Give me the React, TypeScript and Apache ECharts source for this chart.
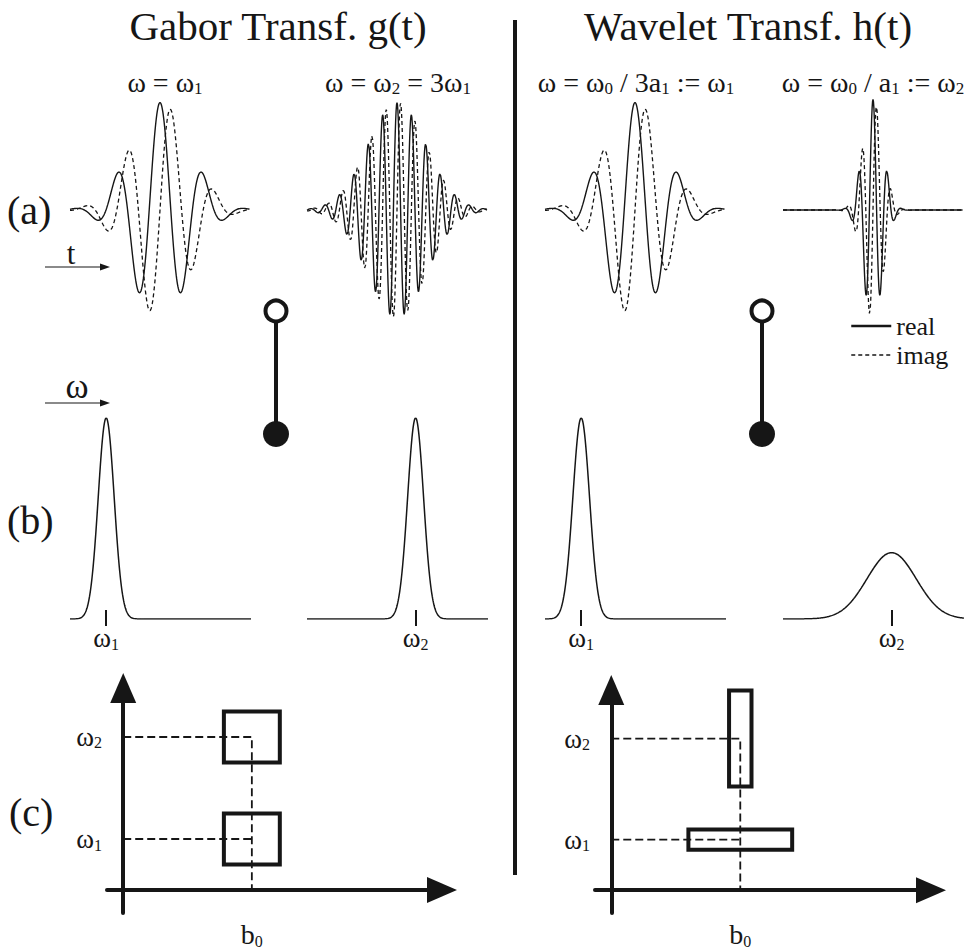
import { useEffect, useRef } from "react";
import * as echarts from "echarts";

const FONT = "'Liberation Serif', 'DejaVu Serif', serif";
const INK = "#161616";

// Row (a): time-domain atoms = Gaussian window x complex exponential
const atomCentres = [0, 0, 0, 0];
const atomPeriods = [0.48, 0.16, 0.48, 0.16];
const atomSigmas = [0.324, 0.324, 0.324, 0.108];
const atomAmplitudes = [1, 1, 1, 1.03];

// Row (b): magnitude spectra of the atoms (frequency axis in units of ω1)
const spectrumCentres = [1, 3, 1, 3];
const spectrumSigmas = [0.22, 0.22, 0.23, 0.68];
const spectrumHeights = [1, 1, 1, 0.33];
const spectrumTickSubs = ["1", "2", "1", "2"];

// Row (c): time-frequency tiles [b, ω, Δt, Δω]
const b0 = 2.3;
const omegaLevels = [1, 3];
const gaborTiles = [
  [2.3, 1, 1.0, 1.0],
  [2.3, 3, 1.0, 1.0],
];
const waveletTiles = [
  [2.3, 1, 1.85, 0.4],
  [2.3, 3, 0.4, 1.9],
];

// Column headings
const headings = ["Gabor Transf. g(t)", "Wavelet Transf. h(t)"];
const subHeadings = [
  "{m|ω = ω}{s|1}",
  "{m|ω = ω}{s|2}{m| = 3ω}{s|1}",
  "{m|ω = ω}{s|0}{m| / 3a}{s|1}{m| := ω}{s|1}",
  "{m|ω = ω}{s|0}{m| / a}{s|1}{m| := ω}{s|2}",
];

const colLeft = [70, 307, 545, 783];
const colCentre = [165, 398, 636, 873];
const colWidth = 181;

const rich = (main: number, sub: number) => ({
  m: { fontFamily: FONT, fontSize: main, lineHeight: main + 1, color: INK, verticalAlign: "middle" },
  s: { fontFamily: FONT, fontSize: sub, lineHeight: sub + 1, color: INK, verticalAlign: "bottom" },
});

function atomCurves(i: number) {
  const real: number[][] = [];
  const imag: number[][] = [];
  for (let k = 0; k <= 400; k++) {
    const t = -1 + k * 0.005;
    const d = t - atomCentres[i];
    const env = atomAmplitudes[i] * Math.exp(-(d * d) / (2 * atomSigmas[i] * atomSigmas[i]));
    const ph = (2 * Math.PI * d) / atomPeriods[i];
    real.push([t, env * Math.cos(ph)]);
    imag.push([t, env * Math.sin(ph)]);
  }
  return { real, imag };
}

function spectrumCurve(i: number) {
  const pts: number[][] = [];
  for (let k = 0; k <= 500; k++) {
    const w = k * 0.01;
    const d = w - spectrumCentres[i];
    pts.push([w, spectrumHeights[i] * Math.exp(-(d * d) / (2 * spectrumSigmas[i] * spectrumSigmas[i]))]);
  }
  return pts;
}

function tileRenderer(params: any, api: any) {
  const t = api.value(0);
  const w = api.value(1);
  const dt = api.value(2);
  const dw = api.value(3);
  const p0 = api.coord([t - dt / 2, w + dw / 2]);
  const p1 = api.coord([t + dt / 2, w - dw / 2]);
  return {
    type: "rect",
    shape: { x: p0[0], y: p0[1], width: p1[0] - p0[0], height: p1[1] - p0[1] },
    style: { fill: "none", stroke: INK, lineWidth: 4 },
  };
}

function buildOption() {
  const grid: any[] = [];
  const xAxis: any[] = [];
  const yAxis: any[] = [];
  const series: any[] = [];

  // (a) atoms
  for (let i = 0; i < 4; i++) {
    grid.push({ left: colLeft[i], top: 95, width: colWidth - 1, height: 230 });
    xAxis.push({ gridIndex: i, type: "value", min: -1, max: 1, show: false });
    yAxis.push({ gridIndex: i, type: "value", min: -1.07, max: 1.07, show: false });
    const { real, imag } = atomCurves(i);
    series.push({
      name: "real", type: "line", xAxisIndex: i, yAxisIndex: i, data: real,
      symbol: "none", silent: true, itemStyle: { color: INK }, lineStyle: { color: INK, width: 1.4 },
    });
    series.push({
      name: "imag", type: "line", xAxisIndex: i, yAxisIndex: i, data: imag,
      symbol: "none", silent: true, itemStyle: { color: INK }, lineStyle: { color: INK, width: 1.3, type: [4, 3] },
    });
  }

  // (b) spectra
  for (let i = 0; i < 4; i++) {
    const g = 4 + i;
    grid.push({ left: colLeft[i], top: 418, width: colWidth, height: 201 });
    xAxis.push({
      gridIndex: g, type: "value", min: 0, max: 5, offset: -9,
      axisLine: { show: false },
      splitLine: { show: false },
      axisTick: { show: true, customValues: [spectrumCentres[i]], length: 16, lineStyle: { color: INK, width: 2 } },
      axisLabel: {
        show: true, customValues: [spectrumCentres[i]], margin: 14,
        formatter: () => `{m|ω}{s|${spectrumTickSubs[i]}}`,
        rich: rich(27, 16),
      },
    });
    yAxis.push({ gridIndex: g, type: "value", min: 0, max: 1, show: false });
    series.push({
      name: "spectrum" + i, type: "line", xAxisIndex: g, yAxisIndex: g, data: spectrumCurve(i),
      symbol: "none", silent: true, lineStyle: { color: INK, width: 1.5 },
    });
  }

  // (c) time-frequency planes
  const planes = [
    { left: 107, top: 688, width: 335, height: 244, tiles: gaborTiles },
    { left: 595, top: 690, width: 336, height: 243, tiles: waveletTiles },
  ];
  planes.forEach((p, j) => {
    const g = 8 + j;
    grid.push({ left: p.left, top: p.top, width: p.width, height: p.height });
    xAxis.push({
      gridIndex: g, type: "value", min: -0.29, max: 5.7,
      axisLine: {
        show: true, onZero: true, symbol: ["none", "triangle"], symbolSize: [26, 30],
        lineStyle: { color: INK, width: 4 },
      },
      axisTick: { show: false },
      splitLine: { show: false },
      axisLabel: {
        show: true, customValues: [b0], margin: 7,
        formatter: () => "{m|b}{s|0}",
        rich: rich(28, 16),
      },
    });
    yAxis.push({
      gridIndex: g, type: "value", min: -0.45, max: 3.96,
      axisLine: {
        show: true, onZero: true, symbol: ["none", "triangle"], symbolSize: [26, 30],
        lineStyle: { color: INK, width: 4 },
      },
      axisTick: { show: false },
      splitLine: { show: false },
      axisLabel: {
        show: true, customValues: omegaLevels, margin: 5,
        formatter: (v: number) => (v === omegaLevels[0] ? "{m|ω}{s|1}" : "{m|ω}{s|2}"),
        rich: rich(27, 16),
      },
    });
    const dash = { color: INK, width: 1.8, type: [8, 4] };
    series.push({
      name: "guide-hi" + j, type: "line", xAxisIndex: g, yAxisIndex: g, symbol: "none", silent: true,
      data: [[0, omegaLevels[1]], [b0, omegaLevels[1]], [b0, 0]], lineStyle: dash,
    });
    series.push({
      name: "guide-lo" + j, type: "line", xAxisIndex: g, yAxisIndex: g, symbol: "none", silent: true,
      data: [[0, omegaLevels[0]], [b0, omegaLevels[0]]], lineStyle: dash,
    });
    series.push({
      name: "tiles" + j, type: "custom", xAxisIndex: g, yAxisIndex: g, data: p.tiles,
      renderItem: tileRenderer, clip: false, silent: true, encode: { x: 0, y: 1 },
    });
  });

  const txt = (text: string, x: number, y: number, size: number, align = "center") => ({
    type: "text",
    silent: true,
    style: {
      text, x, y, fill: INK, fontFamily: FONT, fontSize: size,
      align, verticalAlign: "middle", textAlign: align, textVerticalAlign: "middle",
    },
  });
  const richTxt = (text: string, x: number, y: number) => ({
    type: "text",
    silent: true,
    style: {
      text, x, y, fill: INK, fontFamily: FONT, fontSize: 28, rich: rich(28, 17),
      align: "center", verticalAlign: "middle", textAlign: "center", textVerticalAlign: "middle",
    },
  });
  const arrow = (x0: number, x1: number, y: number) => [
    { type: "line", silent: true, shape: { x1: x0, y1: y, x2: x1 - 6, y2: y }, style: { stroke: INK, lineWidth: 1.2 } },
    { type: "polygon", silent: true, shape: { points: [[x1, y], [x1 - 10, y - 3.5], [x1 - 10, y + 3.5]] }, style: { fill: INK } },
  ];
  const lollipop = (x: number) => [
    { type: "line", silent: true, shape: { x1: x, y1: 322, x2: x, y2: 424 }, style: { stroke: INK, lineWidth: 4 } },
    { type: "circle", silent: true, shape: { cx: x, cy: 311, r: 10.5 }, style: { fill: "#fff", stroke: INK, lineWidth: 4 } },
    { type: "circle", silent: true, shape: { cx: x, cy: 434, r: 13 }, style: { fill: INK } },
  ];

  const graphic: any[] = [
    txt(headings[0], 278, 26, 41),
    txt(headings[1], 748, 26, 41),
    ...subHeadings.map((s, i) => richTxt(s, colCentre[i], 82)),
    txt("(a)", 7, 210, 40, "left"),
    txt("(b)", 7, 520, 40, "left"),
    txt("(c)", 9, 812, 40, "left"),
    txt("t", 71, 253, 31),
    txt("ω", 77, 386, 35),
    ...arrow(45, 110, 267),
    ...arrow(45, 110, 403),
    { type: "line", silent: true, shape: { x1: 515, y1: 20, x2: 515, y2: 875 }, style: { stroke: INK, lineWidth: 4 } },
    ...lollipop(276),
    ...lollipop(762),
  ];

  return {
    animation: false,
    backgroundColor: "#ffffff",
    legend: {
      orient: "vertical", left: 850, top: 313, padding: 0, itemWidth: 40, itemHeight: 14, itemGap: 3,
      selectedMode: false,
      itemStyle: { opacity: 0 },
      textStyle: { fontFamily: FONT, fontSize: 26, color: INK },
      data: [
        { name: "real", lineStyle: { width: 2.5, color: INK }, itemStyle: { opacity: 0 } },
        { name: "imag", lineStyle: { width: 1.5, color: INK }, itemStyle: { opacity: 0 } },
      ],
    },
    grid, xAxis, yAxis, series, graphic,
  };
}

export default function App() {
  const ref = useRef<HTMLDivElement>(null);
  useEffect(() => {
    document.body.style.margin = "0";
    const chart = echarts.init(ref.current!, null, { renderer: "svg" });
    chart.setOption(buildOption() as any);
    return () => chart.dispose();
  }, []);
  return <div ref={ref} style={{ width: 969, height: 949 }} />;
}
